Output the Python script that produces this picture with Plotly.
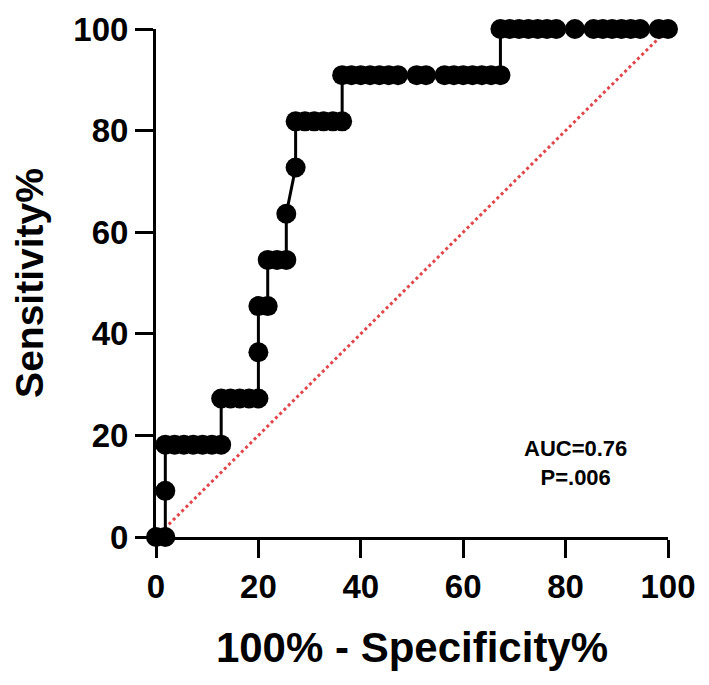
"""ROC curve (100% - Specificity% vs Sensitivity%) with reference diagonal."""

import plotly.graph_objects as go

# 100% - specificity (%) for each cutoff, in plotting order
FPR = [
    0.00, 1.82,
    1.82,
    1.82, 3.64, 5.45, 7.27, 9.09, 10.91, 12.73,
    12.73, 14.55, 16.36, 18.18, 20.00,
    20.00,
    20.00, 21.82,
    21.82, 23.64, 25.45,
    25.45,
    27.27,
    27.27, 29.09, 30.91, 32.73, 34.55, 36.36,
    36.36, 38.18, 40.00, 41.82, 43.64, 45.45, 47.27, 50.91, 52.73,
    56.36, 58.18, 60.00, 61.82, 63.64, 65.45, 67.27,
    67.27, 69.09, 70.91, 72.73, 74.55, 76.36, 78.18, 81.82,
    85.45, 87.27, 89.09, 90.91, 92.73, 94.55, 98.18, 100.00,
]
# sensitivity (%) for each cutoff
SENS = [
    0.00, 0.00,
    9.09,
    18.18, 18.18, 18.18, 18.18, 18.18, 18.18, 18.18,
    27.27, 27.27, 27.27, 27.27, 27.27,
    36.36,
    45.45, 45.45,
    54.55, 54.55, 54.55,
    63.64,
    72.73,
    81.82, 81.82, 81.82, 81.82, 81.82, 81.82,
    90.91, 90.91, 90.91, 90.91, 90.91, 90.91, 90.91, 90.91, 90.91,
    90.91, 90.91, 90.91, 90.91, 90.91, 90.91, 90.91,
    100, 100, 100, 100, 100, 100, 100, 100,
    100, 100, 100, 100, 100, 100, 100, 100,
]
DIAG = [0, 100]
TICKS = [0, 20, 40, 60, 80, 100]
AUC_TEXT = "AUC=0.76<br>P=.006"

FONT = "Liberation Sans, Arial, sans-serif"

fig = go.Figure()
fig.add_trace(
    go.Scatter(
        x=DIAG, y=DIAG, mode="lines",
        line=dict(color="#e0474c", width=3, dash="dot"),
        cliponaxis=False, showlegend=False, hoverinfo="skip",
    )
)
fig.add_trace(
    go.Scatter(
        x=FPR, y=SENS, mode="lines+markers",
        line=dict(color="black", width=3),
        marker=dict(color="black", size=20),
        cliponaxis=False, showlegend=False,
    )
)
fig.add_annotation(
    x=82, y=14.5, xref="x", yref="y", text=AUC_TEXT, showarrow=False,
    font=dict(family=FONT, size=22, color="black", weight="bold"),
    align="center",
)

axis_common = dict(
    range=[0, 100],
    tickvals=TICKS,
    showline=True, linecolor="black", linewidth=3,
    ticks="outside", tickwidth=3, ticklen=18, tickcolor="black",
    showgrid=False, zeroline=False, automargin=False,
    ticklabeloverflow="allow",
    tickfont=dict(family=FONT, size=33, color="black", weight="bold"),
)
fig.update_xaxes(
    **axis_common,
    title=dict(text="100% - Specificity%", standoff=30,
               font=dict(family=FONT, size=42, color="black", weight="bold")),
)
fig.update_yaxes(
    **axis_common,
    title=dict(text="Sensitivity%", standoff=36,
               font=dict(family=FONT, size=39, color="black", weight="bold")),
)
# page body adds an 8px offset, so the figure is a little smaller than the window
fig.update_layout(
    width=701, height=677,
    margin=dict(l=148, r=41, t=21, b=148),
    plot_bgcolor="white", paper_bgcolor="white",
)
fig.write_html("out.html")
